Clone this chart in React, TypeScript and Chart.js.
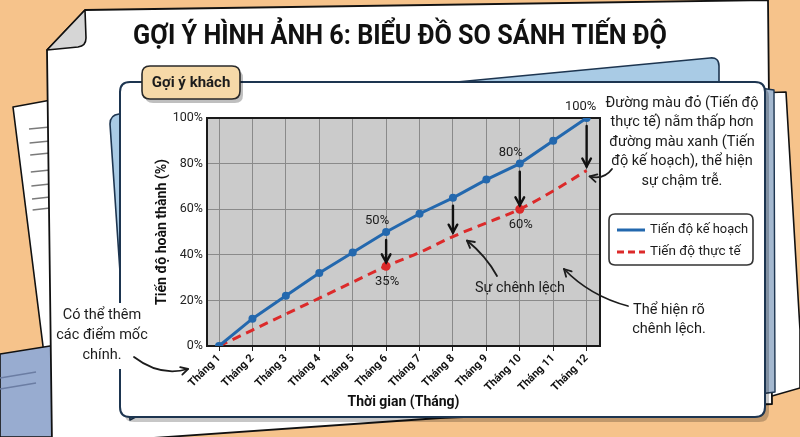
import React, { useEffect, useRef } from "react";
import { Chart, registerables } from "chart.js";

Chart.register(...registerables);

// ---------- DATA ----------
const months = ["Tháng 1", "Tháng 2", "Tháng 3", "Tháng 4", "Tháng 5", "Tháng 6", "Tháng 7", "Tháng 8", "Tháng 9", "Tháng 10", "Tháng 11", "Tháng 12"];
const planned = [0, 12, 22, 32, 41, 50, 58, 65, 73, 80, 90, 100];
const actual = [0, 7, 14, 21, 28, 35, 41, 48, 54, 60, 68, 77];
const yTicks = [0, 20, 40, 60, 80, 100];
const seriesNames = ["Tiến độ kế hoạch", "Tiến độ thực tế"];
const gapMonths = [6, 8, 10, 12];
const labeledPlanned = [6, 10, 12];
const labeledActual = [6, 10];
const titleText = "GỢI Ý HÌNH ẢNH 6: BIỂU ĐỒ SO SÁNH TIẾN ĐỘ";
const tagText = "Gợi ý khách";
const xTitle = "Thời gian (Tháng)";
const yTitle = "Tiến độ hoàn thành (%)";
const noteRight = ["Đường màu đỏ (Tiến độ", "thực tế) nằm thấp hơn", "đường màu xanh (Tiến", "độ kế hoạch), thể hiện", "sự chậm trễ."];
const noteGap = ["Thể hiện rõ", "chênh lệch."];
const noteLeft = ["Có thể thêm", "các điểm mốc", "chính."];
const gapLabel = "Sự chênh lệch";

const BLUE = "#2368ae";
const RED = "#dc2a2a";
const INK = "#1c1c1c";
const NAVY = "#1d3550";
const FONT = "Roboto, 'Noto Sans', sans-serif";

function rr(ctx: CanvasRenderingContext2D, x: number, y: number, w: number, h: number, r: number) {
  ctx.beginPath();
  ctx.moveTo(x + r, y);
  ctx.lineTo(x + w - r, y);
  ctx.quadraticCurveTo(x + w, y, x + w, y + r);
  ctx.lineTo(x + w, y + h - r);
  ctx.quadraticCurveTo(x + w, y + h, x + w - r, y + h);
  ctx.lineTo(x + r, y + h);
  ctx.quadraticCurveTo(x, y + h, x, y + h - r);
  ctx.lineTo(x, y + r);
  ctx.quadraticCurveTo(x, y, x + r, y);
  ctx.closePath();
}

function poly(ctx: CanvasRenderingContext2D, pts: number[][], fill: string, stroke?: string, lw = 1.5) {
  ctx.beginPath();
  pts.forEach((p, i) => (i ? ctx.lineTo(p[0], p[1]) : ctx.moveTo(p[0], p[1])));
  ctx.closePath();
  ctx.fillStyle = fill;
  ctx.fill();
  if (stroke) {
    ctx.strokeStyle = stroke;
    ctx.lineWidth = lw;
    ctx.lineJoin = "round";
    ctx.stroke();
  }
}

function line(ctx: CanvasRenderingContext2D, x1: number, y1: number, x2: number, y2: number, color: string, lw: number) {
  ctx.beginPath();
  ctx.moveTo(x1, y1);
  ctx.lineTo(x2, y2);
  ctx.strokeStyle = color;
  ctx.lineWidth = lw;
  ctx.stroke();
}

function head(ctx: CanvasRenderingContext2D, x: number, y: number, ang: number, size: number) {
  ctx.beginPath();
  ctx.moveTo(x - size * Math.cos(ang - 0.5), y - size * Math.sin(ang - 0.5));
  ctx.lineTo(x, y);
  ctx.lineTo(x - size * Math.cos(ang + 0.5), y - size * Math.sin(ang + 0.5));
  ctx.stroke();
}

function curveArrow(ctx: CanvasRenderingContext2D, x1: number, y1: number, cx: number, cy: number, x2: number, y2: number) {
  ctx.save();
  ctx.strokeStyle = INK;
  ctx.lineWidth = 1.8;
  ctx.lineCap = "round";
  ctx.lineJoin = "round";
  ctx.beginPath();
  ctx.moveTo(x1, y1);
  ctx.quadraticCurveTo(cx, cy, x2, y2);
  ctx.stroke();
  head(ctx, x2, y2, Math.atan2(y2 - cy, x2 - cx), 8);
  ctx.restore();
}

function textLines(ctx: CanvasRenderingContext2D, lines: string[], cx: number, y0: number, lh: number, font: string) {
  ctx.save();
  ctx.font = font;
  ctx.fillStyle = INK;
  ctx.textAlign = "center";
  ctx.textBaseline = "middle";
  lines.forEach((t, i) => ctx.fillText(t, cx, y0 + i * lh));
  ctx.restore();
}

const bgPlugin = {
  id: "bg",
  beforeDraw(chart: any) {
    const ctx: CanvasRenderingContext2D = chart.ctx;
    const a = chart.chartArea;
    ctx.save();
    // orange desk
    ctx.fillStyle = "#f6c38b";
    ctx.fillRect(0, 0, 800, 437);
    // back paper on right
    poly(ctx, [[700, 95], [786, 92], [800, 330], [800, 388], [765, 398], [700, 398]], "#ffffff", "#111", 1.6);
    // lined paper on left
    poly(ctx, [[13, 107], [62, 98], [62, 370], [46, 370]], "#ffffff", "#111", 1.6);
    [128, 142, 154, 171, 185, 198, 209].forEach((y, i) => line(ctx, 29 + i * 0.6, y + 1, 50, y - 1, "#7a7a7a", 1.4));
    // blue sheet bottom-left
    poly(ctx, [[0, 354], [150, 330], [150, 437], [0, 437]], "#98acd0", "#111", 1.6);
    line(ctx, 0, 378, 36, 372, "#6b7da3", 1.4);
    line(ctx, 0, 389, 36, 383, "#6b7da3", 1.4);
    // main paper
    poly(ctx, [[85, 10], [768, 0], [772, 404], [440, 418], [52, 445], [47, 50]], "#ffffff", "#111", 1.8);
    // folded corner
    ctx.beginPath();
    ctx.moveTo(85, 10);
    ctx.lineTo(47, 50);
    ctx.lineTo(78, 47);
    ctx.quadraticCurveTo(86, 46, 86, 38);
    ctx.closePath();
    ctx.fillStyle = "#d6d6d6";
    ctx.fill();
    ctx.strokeStyle = "#111";
    ctx.lineWidth = 1.6;
    ctx.stroke();
    // blue folder behind card
    ctx.beginPath();
    ctx.moveTo(119, 114);
    ctx.lineTo(710, 58);
    ctx.quadraticCurveTo(719, 57, 719, 66);
    ctx.lineTo(719, 100);
    ctx.lineTo(130, 420);
    ctx.lineTo(110, 124);
    ctx.quadraticCurveTo(110, 115, 119, 114);
    ctx.closePath();
    ctx.fillStyle = "#a9cbe5";
    ctx.fill();
    ctx.strokeStyle = NAVY;
    ctx.lineWidth = 1.6;
    ctx.stroke();
    // right strip of folder
    poly(ctx, [[760, 88], [774, 90], [775, 392], [760, 394]], "#a4b8cf", NAVY, 1.4);
    // card shadow
    rr(ctx, 124, 87, 645, 335, 10);
    ctx.fillStyle = "rgba(0,0,0,0.22)";
    ctx.fill();
    // card
    rr(ctx, 120, 82, 645, 335, 10);
    ctx.fillStyle = "#ffffff";
    ctx.fill();
    ctx.strokeStyle = NAVY;
    ctx.lineWidth = 2;
    ctx.stroke();
    // tag
    rr(ctx, 145, 70, 98, 33, 8);
    ctx.fillStyle = "rgba(0,0,0,0.25)";
    ctx.fill();
    rr(ctx, 142, 66, 98, 33, 8);
    ctx.fillStyle = "#f6d9a8";
    ctx.fill();
    ctx.strokeStyle = "#2a2a2a";
    ctx.lineWidth = 1.6;
    ctx.stroke();
    ctx.font = `bold 15px ${FONT}`;
    ctx.fillStyle = INK;
    ctx.textAlign = "center";
    ctx.textBaseline = "middle";
    ctx.fillText(tagText, 191, 83, 84);
    // title
    ctx.font = `bold 28px ${FONT}`;
    ctx.fillStyle = "#111";
    ctx.fillText(titleText, 400, 37, 534);
    // white patch behind left note (hides card edge)
    ctx.fillStyle = "#ffffff";
    ctx.fillRect(58, 303, 92, 66);
    // plot background
    ctx.fillStyle = "#cbcbcb";
    ctx.fillRect(a.left, a.top, a.right - a.left, a.bottom - a.top);
    ctx.restore();
  },
  beforeDatasetsDraw(chart: any) {
    const ctx: CanvasRenderingContext2D = chart.ctx;
    const a = chart.chartArea;
    ctx.save();
    ctx.strokeStyle = "#1a1a1a";
    ctx.lineWidth = 2;
    ctx.strokeRect(a.left, a.top, a.right - a.left, a.bottom - a.top);
    ctx.restore();
  },
};

const annotPlugin = {
  id: "annot",
  afterDraw(chart: any) {
    const ctx: CanvasRenderingContext2D = chart.ctx;
    const xs = chart.scales.x;
    const ys = chart.scales.y;
    const a = chart.chartArea;
    ctx.save();
    // gap arrows
    ctx.strokeStyle = "#111";
    ctx.lineWidth = 2.4;
    ctx.lineCap = "round";
    gapMonths.forEach((m) => {
      const x = xs.getPixelForValue(m);
      const y1 = ys.getPixelForValue(planned[m - 1]) + 8;
      const y2 = ys.getPixelForValue(actual[m - 1]) - 4;
      ctx.beginPath();
      ctx.moveTo(x, y1);
      ctx.lineTo(x, y2);
      ctx.stroke();
      head(ctx, x, y2, Math.PI / 2, 9);
    });
    // value labels
    ctx.font = `13px ${FONT}`;
    ctx.fillStyle = INK;
    ctx.textAlign = "center";
    ctx.textBaseline = "middle";
    labeledPlanned.forEach((m) => {
      const x = xs.getPixelForValue(m);
      const y = ys.getPixelForValue(planned[m - 1]);
      const dx = m === 12 ? -6 : -9;
      ctx.fillText(planned[m - 1] + "%", x + dx, y - 11);
    });
    labeledActual.forEach((m) => {
      const x = xs.getPixelForValue(m);
      const y = ys.getPixelForValue(actual[m - 1]);
      ctx.fillText(actual[m - 1] + "%", x + 1, y + 16);
    });
    // axis titles
    ctx.font = `bold 15px ${FONT}`;
    ctx.fillStyle = "#111";
    ctx.fillText(xTitle, (a.left + a.right) / 2, 402, 112);
    ctx.save();
    ctx.translate(162, (a.top + a.bottom) / 2);
    ctx.rotate(-Math.PI / 2);
    ctx.fillText(yTitle, 0, 0, 146);
    ctx.restore();
    // gap label + arrow
    ctx.font = `15px ${FONT}`;
    ctx.fillStyle = INK;
    ctx.fillText(gapLabel, 520, 288, 90);
    const x8 = xs.getPixelForValue(8);
    const y8 = ys.getPixelForValue(actual[7]);
    curveArrow(ctx, 497, 276, 486, 256, x8 + 14, y8 + 4);
    // right note
    textLines(ctx, noteRight, 682, 103, 19.5, `14.5px ${FONT}`);
    const x12 = xs.getPixelForValue(12);
    const y12 = ys.getPixelForValue(actual[11]);
    curveArrow(ctx, 612, 169, 604, 180, x12 + 3, y12 + 6);
    // legend box
    rr(ctx, 609, 214, 144, 51, 6);
    ctx.fillStyle = "#ffffff";
    ctx.fill();
    ctx.strokeStyle = "#333";
    ctx.lineWidth = 1.6;
    ctx.stroke();
    ctx.lineCap = "butt";
    line(ctx, 617, 230, 645, 230, BLUE, 3);
    ctx.save();
    ctx.setLineDash([7, 4]);
    line(ctx, 617, 252, 645, 252, RED, 3);
    ctx.restore();
    ctx.font = `13.5px ${FONT}`;
    ctx.fillStyle = INK;
    ctx.textAlign = "left";
    ctx.fillText(seriesNames[0], 650, 230, 98);
    ctx.fillText(seriesNames[1], 650, 252, 98);
    // gap note
    textLines(ctx, noteGap, 669, 310, 19, `14.5px ${FONT}`);
    curveArrow(ctx, 628, 306, 590, 296, 564, 269);
    // left note
    textLines(ctx, noteLeft, 102, 315, 20, `14.5px ${FONT}`);
    curveArrow(ctx, 134, 357, 160, 377, 188, 369);
    ctx.restore();
  },
};

export default function App() {
  const ref = useRef<HTMLCanvasElement>(null);
  useEffect(() => {
    const chart = new Chart(ref.current as HTMLCanvasElement, {
      type: "line",
      data: {
        datasets: [
          {
            label: seriesNames[0],
            data: planned.map((v, i) => ({ x: i + 1, y: v })),
            borderColor: BLUE,
            backgroundColor: BLUE,
            borderWidth: 3,
            pointRadius: 4,
            pointBackgroundColor: BLUE,
            pointBorderColor: BLUE,
            pointBorderWidth: 0,
            tension: 0,
            order: 1,
          },
          {
            label: seriesNames[1],
            data: actual.map((v, i) => ({ x: i + 1, y: v })),
            borderColor: RED,
            backgroundColor: RED,
            borderWidth: 3,
            borderDash: [9, 6],
            pointRadius: actual.map((_, i) => (labeledActual.includes(i + 1) ? 4.5 : 0)),
            pointBackgroundColor: RED,
            pointBorderWidth: 0,
            tension: 0.3,
            cubicInterpolationMode: "monotone",
            order: 2,
          },
        ],
      } as any,
      options: {
        responsive: false,
        animation: false,
        devicePixelRatio: 1,
        layout: { padding: { left: 150, right: 200, top: 118, bottom: 30 } },
        plugins: { legend: { display: false }, tooltip: { enabled: false } },
        scales: {
          x: {
            type: "linear",
            min: 0.64,
            max: 12.4,
            afterBuildTicks: (s: any) => {
              s.ticks = months.map((_, i) => ({ value: i + 1 }));
            },
            afterFit: (s: any) => {
              s.height = 61;
            },
            ticks: {
              callback: (v: any) => months[Number(v) - 1],
              minRotation: 45,
              maxRotation: 45,
              autoSkip: false,
              color: "#111",
              font: { family: FONT, size: 11, weight: "bold" },
              padding: 1,
            },
            grid: { color: "#8a8a8a", lineWidth: 1, drawTicks: true, tickLength: 5, tickColor: "#222" },
            border: { display: false },
          },
          y: {
            min: 0,
            max: 100,
            afterBuildTicks: (s: any) => {
              s.ticks = yTicks.map((v) => ({ value: v }));
            },
            afterFit: (s: any) => {
              s.width = 57;
            },
            ticks: { callback: (v: any) => v + "%", color: "#222", font: { family: FONT, size: 12.5 }, padding: 4 },
            grid: { color: "#8a8a8a", lineWidth: 1, drawTicks: false },
            border: { display: false },
          },
        },
      } as any,
      plugins: [bgPlugin, annotPlugin],
    });
    return () => chart.destroy();
  }, []);
  return (
    <div style={{ position: "fixed", left: 0, top: 0, width: 800, height: 437 }}>
      <canvas ref={ref} width={800} height={437} style={{ display: "block", width: 800, height: 437 }} />
    </div>
  );
}
